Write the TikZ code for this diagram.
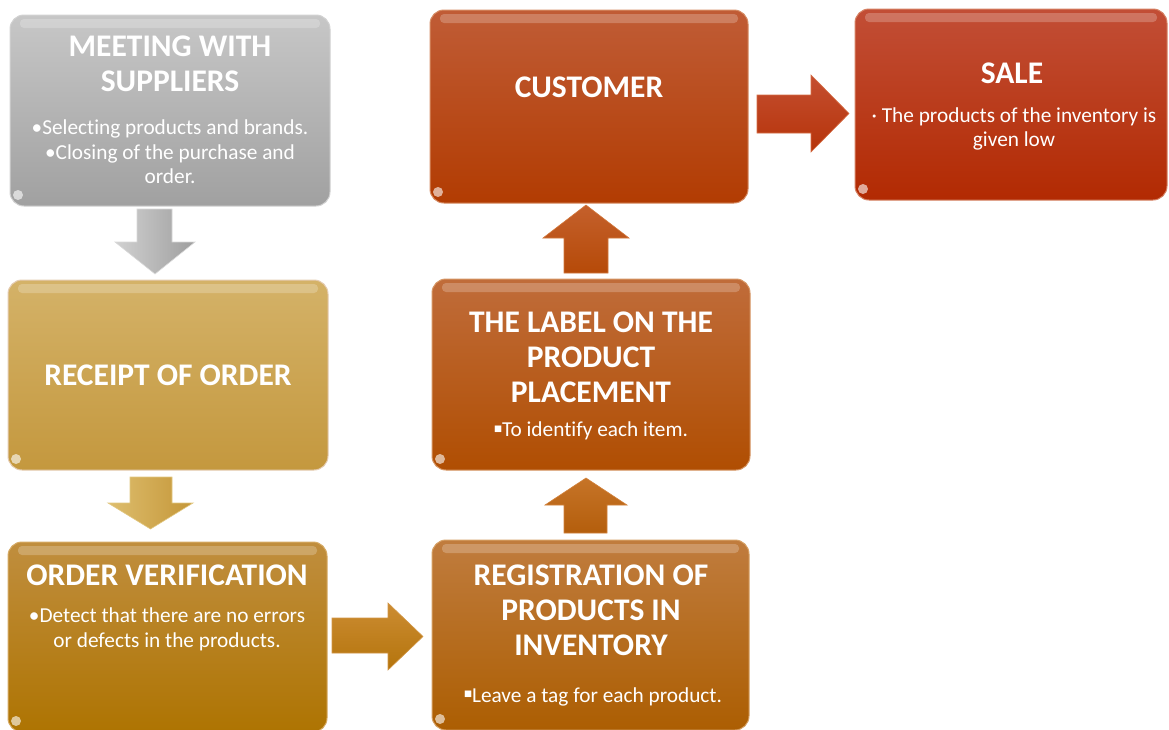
\documentclass[tikz,border=0pt]{standalone}
\usepackage{fontspec}
\setmainfont{Carlito}[Ligatures=NoCommon]
\newfontfamily\dejavu{DejaVu Sans}
\usetikzlibrary{calc}
\tikzset{
  box/.style={rounded corners=14pt, line width=1pt, inner sep=0pt,
    path picture={
      \fill[white,opacity=.22,rounded corners=4pt]
        ([xshift=10pt,yshift=-4pt]path picture bounding box.north west) rectangle
        ([xshift=-10pt,yshift=-13pt]path picture bounding box.north east);
      \fill[white,opacity=.6]
        ([xshift=8pt,yshift=11pt]path picture bounding box.south west) circle (5pt);
    }},
  ttl/.style={text=white, align=center, font=\bfseries\fontsize{31.5}{35}\selectfont},
  txt/.style={text=white, align=center, font=\fontsize{21.3}{24.5}\selectfont},
  barrow/.style={line width=0.6pt, line join=miter},
}
\newcommand{\smbul}{\raisebox{0.55ex}{\scalebox{0.4}{\dejavu ■}}}
\begin{document}
\begin{tikzpicture}[x=1pt,y=-1pt]
\clip (0,0) rectangle (1169,729);
\fill[white] (0,0) rectangle (1169,729);

% boxes
\node[box, draw=gray!35, top color=black!22, bottom color=black!37,
  minimum width=320pt, minimum height=191pt] (b1) at (170,110.5) {};
\node[box, draw=white!60!brown, top color={rgb,255:red,212;green,178;blue,104},
  bottom color={rgb,255:red,196;green,152;blue,62},
  minimum width=320pt, minimum height=190pt] (b2) at (168,375) {};
\node[box, draw={rgb,255:red,214;green,170;blue,100}, top color={rgb,255:red,192;green,142;blue,62},
  bottom color={rgb,255:red,174;green,116;blue,2},
  minimum width=319pt, minimum height=190pt] (b3) at (167.5,637) {};
\node[box, draw={rgb,255:red,214;green,160;blue,100}, top color={rgb,255:red,192;green,124;blue,62},
  bottom color={rgb,255:red,172;green,94;blue,2},
  minimum width=317pt, minimum height=190pt] (b4) at (590.5,635) {};
\node[box, draw={rgb,255:red,214;green,150;blue,100}, top color={rgb,255:red,192;green,108;blue,58},
  bottom color={rgb,255:red,176;green,78;blue,2},
  minimum width=318pt, minimum height=191pt] (b5) at (591,374.5) {};
\node[box, draw={rgb,255:red,214;green,140;blue,100}, top color={rgb,255:red,192;green,92;blue,54},
  bottom color={rgb,255:red,178;green,60;blue,2},
  minimum width=318pt, minimum height=193pt] (b6) at (589,106.5) {};
\node[box, draw={rgb,255:red,214;green,130;blue,100}, top color={rgb,255:red,194;green,78;blue,54},
  bottom color={rgb,255:red,178;green,42;blue,2},
  minimum width=312pt, minimum height=191pt] (b7) at (1011,104.5) {};

% block arrows
\draw[barrow, draw=black!15, left color=black!18, right color=black!38]
  (137,209) -- (172,209) -- (172,242) -- (195,242) -- (155,274) -- (115,242) -- (137,242) -- cycle;
\draw[barrow, draw={rgb,255:red,226;green,200;blue,130}, left color={rgb,255:red,222;green,190;blue,110},
  right color={rgb,255:red,196;green,150;blue,56}]
  (130,477) -- (172,477) -- (172,503) -- (193,503) -- (150.5,529) -- (108,503) -- (130,503) -- cycle;
\draw[barrow, draw={rgb,255:red,210;green,150;blue,70}, top color={rgb,255:red,204;green,140;blue,50},
  bottom color={rgb,255:red,180;green,116;blue,12}]
  (332,618) -- (388,618) -- (388,603) -- (423,636.5) -- (388,670) -- (388,653) -- (332,653) -- cycle;
\draw[barrow, draw={rgb,255:red,210;green,130;blue,60}, top color={rgb,255:red,198;green,116;blue,40},
  bottom color={rgb,255:red,180;green,94;blue,12}]
  (586,478) -- (627,505) -- (607,505) -- (607,533) -- (564,533) -- (564,505) -- (545,505) -- cycle;
\draw[barrow, draw={rgb,255:red,210;green,120;blue,60}, top color={rgb,255:red,196;green,96;blue,44},
  bottom color={rgb,255:red,182;green,74;blue,8}]
  (586,205) -- (629,238) -- (608,238) -- (608,273) -- (564,273) -- (564,238) -- (543,238) -- cycle;
\draw[barrow, draw={rgb,255:red,214;green,110;blue,70}, top color={rgb,255:red,196;green,78;blue,48},
  bottom color={rgb,255:red,182;green,52;blue,10}]
  (757,95) -- (811,95) -- (811,75) -- (849,113.5) -- (811,152) -- (811,133) -- (757,133) -- cycle;

% texts
\node[ttl] (t1) at (170,64) {MEETING WITH\\SUPPLIERS};
\node[txt] (s1) at (170,152) {•Selecting products and brands.\\•Closing of the purchase and\\order.};
\node[ttl] (t2) at (168,375) {RECEIPT OF ORDER};
\node[ttl] (t3) at (167,575) {ORDER VERIFICATION};
\node[txt] (s3) at (167,629.5) {•Detect that there are no errors\\or defects in the products.};
\node[ttl] (t4) at (591,610) {REGISTRATION OF\\PRODUCTS IN\\INVENTORY};
\node[txt] (s4) at (593,697) {\smbul Leave a tag for each product.};
\node[ttl] (t5) at (591,357) {THE LABEL ON THE\\PRODUCT\\PLACEMENT};
\node[txt] (s5) at (591,431) {\smbul To identify each item.};
\node[ttl] (t6) at (589,87) {CUSTOMER};
\node[ttl] (t7) at (1012,73) {SALE};
\node[txt] (s7) at (1014,129) {· The products of the inventory is\\given low};
\end{tikzpicture}
\end{document}
